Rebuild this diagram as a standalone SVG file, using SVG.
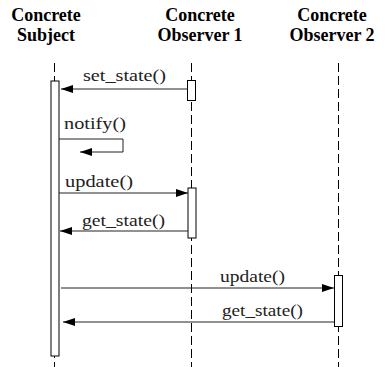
<svg xmlns="http://www.w3.org/2000/svg" width="385" height="367" viewBox="0 0 385 367">
<style>
.hdr{font-family:"Liberation Serif","Times New Roman",serif;font-weight:bold;font-size:18px;fill:#000;text-anchor:middle}
.lbl{font-family:"Liberation Serif","Times New Roman",serif;font-size:17px;fill:#222}
.life{stroke:#000;stroke-width:1;stroke-dasharray:9,4;fill:none}
.act{fill:#fff;stroke:#000;stroke-width:1}
.msg{stroke:#222;stroke-width:1;fill:none;marker-end:url(#arr)}
</style>
<defs>
<marker id="arr" markerUnits="userSpaceOnUse" markerWidth="12" markerHeight="8" refX="12" refY="4" orient="auto">
<path d="M0,0 L12,4 L0,8 z" fill="#000"/>
</marker>
</defs>
<g id="subject">
<text class="hdr" x="46" y="21">Concrete</text>
<text class="hdr" x="46" y="41">Subject</text>
<line class="life" x1="54.5" y1="63" x2="54.5" y2="367"/>
<rect class="act" x="51" y="81" width="8" height="275"/>
</g>
<g id="observer1">
<text class="hdr" x="200" y="21">Concrete</text>
<text class="hdr" x="200" y="41">Observer 1</text>
<line class="life" x1="191.5" y1="63" x2="191.5" y2="367"/>
<rect class="act" x="187.5" y="80.5" width="8" height="20"/>
<rect class="act" x="188" y="188" width="8" height="50"/>
</g>
<g id="observer2">
<text class="hdr" x="332" y="21">Concrete</text>
<text class="hdr" x="332" y="41">Observer 2</text>
<line class="life" x1="338.5" y1="63" x2="338.5" y2="367"/>
<rect class="act" x="334.5" y="275.5" width="8" height="51"/>
</g>
<g id="connectors">
<line class="msg" x1="187.5" y1="89" x2="61" y2="89"/>
<path class="msg" d="M59,139 H123 V152 H80"/>
<line class="msg" x1="59" y1="193" x2="188" y2="193"/>
<line class="msg" x1="188" y1="231" x2="60" y2="231"/>
<line class="msg" x1="61" y1="288" x2="334" y2="288"/>
<line class="msg" x1="334.5" y1="322" x2="63" y2="322"/>
</g>
<g id="labels">
<text class="lbl" x="83" y="81" textLength="83" lengthAdjust="spacingAndGlyphs">set_state()</text>
<text class="lbl" x="64" y="129" textLength="62" lengthAdjust="spacingAndGlyphs">notify()</text>
<text class="lbl" x="65" y="187" textLength="68" lengthAdjust="spacingAndGlyphs">update()</text>
<text class="lbl" x="82" y="226" textLength="83" lengthAdjust="spacingAndGlyphs">get_state()</text>
<text class="lbl" x="220" y="282" textLength="65" lengthAdjust="spacingAndGlyphs">update()</text>
<text class="lbl" x="222" y="316" textLength="81" lengthAdjust="spacingAndGlyphs">get_state()</text>
</g>
</svg>
